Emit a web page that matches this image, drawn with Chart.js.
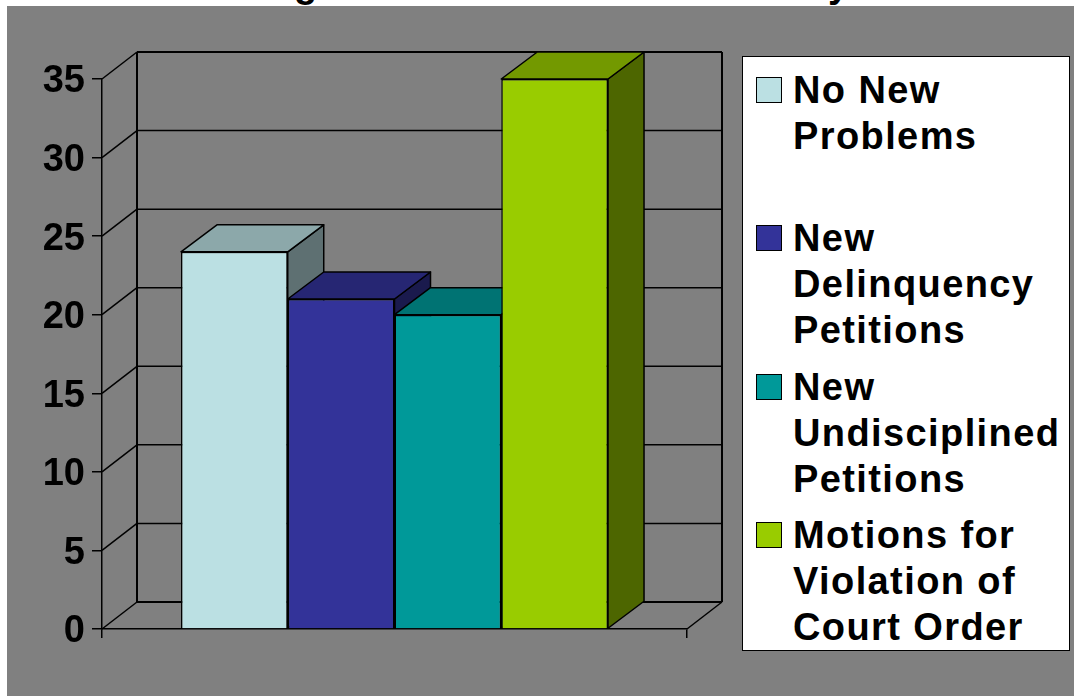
<!DOCTYPE html>
<html>
<head>
<meta charset="utf-8">
<title>Chart</title>
<script src="https://cdn.jsdelivr.net/npm/chart.js@4"></script>
<style>
  html, body { margin: 0; height: 100%; overflow: hidden; background: #fff; }
  body { font-family: "Liberation Sans", Arial, sans-serif; font-weight: bold; color: #000; }
  #backdrop { position: absolute; left: 7px; top: 6px; right: 0; bottom: 0; background: #808080; }
  #chart { position: absolute; left: 0; top: 0; }
  /* only the descenders of the title show above the grey area */
  #title-strip { position: absolute; left: 0; top: 0; width: 100%; height: 6px; overflow: hidden; font-size: 38px; line-height: 38px; }
  #title-strip span { position: absolute; top: -35px; }
  #legend { position: absolute; left: 742px; top: 56px; width: 326px; height: 593px; background: #fff; border: 1.5px solid #000; }
  .item { position: absolute; left: 0; width: 100%; font-size: 38px; line-height: 46px; letter-spacing: 1.4px; }
  .swatch { position: absolute; left: 13px; top: 10px; width: 24px; height: 24px; border: 1.5px solid #000; }
  .label { position: absolute; left: 50px; top: 0; white-space: nowrap; }
</style>
</head>
<body>
<div id="backdrop"></div>
<div id="title-strip"><span style="left:294px">g</span><span style="left:828px">y</span></div>
<canvas id="chart" width="1074" height="696"></canvas>
<div id="legend"></div>
<script>
'use strict';

const categories = [''];
const seriesNames = [
  ['No New', 'Problems'],
  ['New', 'Delinquency', 'Petitions'],
  ['New', 'Undisciplined', 'Petitions'],
  ['Motions for', 'Violation of', 'Court Order']
];
const seriesValues = [24, 21, 20, 35];
const seriesColors = ['#BBE0E3', '#333399', '#009999', '#99CC00'];
const topColors = ['#8CA8AA', '#262673', '#007373', '#739900'];
const sideColors = ['#5E7072', '#1A1A4D', '#004D4D', '#4D6600'];
const yTicks = [0, 5, 10, 15, 20, 25, 30, 35];

const wallDx = 35, wallDy = -27, barDx = 36;

function line(ctx, x1, y1, x2, y2, width) {
  ctx.lineWidth = width;
  ctx.beginPath();
  ctx.moveTo(x1, y1);
  ctx.lineTo(x2, y2);
  ctx.stroke();
}

function face(ctx, pts, color) {
  ctx.fillStyle = color;
  ctx.beginPath();
  pts.forEach((p, i) => i ? ctx.lineTo(p[0], p[1]) : ctx.moveTo(p[0], p[1]));
  ctx.closePath();
  ctx.fill();
  ctx.stroke();
}

// walls, floor and the top/side faces of the bars, all from the chart's scales
const depthPlugin = {
  id: 'depth',
  beforeDatasetsDraw(chart) {
    const ctx = chart.ctx;
    const xs = chart.scales.x, ys = chart.scales.y;
    const l = xs.left, r = xs.right;
    ctx.save();
    ctx.strokeStyle = '#000';
    ctx.lineJoin = 'round';
    yTicks.forEach(v => {
      const y = ys.getPixelForValue(v);
      const w = (v === 0 || v === yTicks[yTicks.length - 1]) ? 2 : 1.5;
      line(ctx, l, y, l + wallDx, y + wallDy, 1.5);
      line(ctx, l + wallDx, y + wallDy, r + wallDx, y + wallDy, w);
    });
    const top = ys.getPixelForValue(yTicks[yTicks.length - 1]) + wallDy;
    const floor = ys.getPixelForValue(0);
    line(ctx, l + wallDx, top, l + wallDx, floor + wallDy, 2);
    line(ctx, r + wallDx, top, r + wallDx, floor + wallDy, 2);
    line(ctx, r, floor, r + wallDx, floor + wallDy, 1.5);

    ctx.lineWidth = 1.5;
    seriesValues.forEach((v, i) => {
      const bar = chart.getDatasetMeta(i).data[0];
      const x1 = bar.x - bar.width / 2, x2 = bar.x + bar.width / 2;
      face(ctx, [[x2, bar.y], [x2 + barDx, bar.y + wallDy], [x2 + barDx, bar.base + wallDy], [x2, bar.base]], sideColors[i]);
      face(ctx, [[x1, bar.y], [x1 + barDx, bar.y + wallDy], [x2 + barDx, bar.y + wallDy], [x2, bar.y]], topColors[i]);
    });
    ctx.restore();
  }
};

const tickFont = { family: '"Liberation Sans", Arial, sans-serif', size: 38, weight: 'bold' };

new Chart(document.getElementById('chart'), {
  type: 'bar',
  data: {
    labels: categories,
    datasets: seriesValues.map((v, i) => ({
      label: seriesNames[i].join(' '),
      data: [v],
      backgroundColor: seriesColors[i],
      borderColor: '#000',
      borderWidth: 1.5
    }))
  },
  options: {
    responsive: false,
    animation: false,
    categoryPercentage: 0.73,
    barPercentage: 1,
    layout: { autoPadding: false, padding: { left: 0, top: 79, right: 387, bottom: 67 } },
    plugins: { legend: { display: false }, title: { display: false }, tooltip: { enabled: false } },
    scales: {
      x: {
        afterFit(s) { s.height = 0; },
        ticks: { display: false },
        grid: { offset: true, drawOnChartArea: false, color: '#000', lineWidth: 1.5, tickLength: 9 },
        border: { color: '#000', width: 1.5 }
      },
      y: {
        min: 0,
        max: 35,
        afterFit(s) { s.width = 102; },
        afterBuildTicks(s) { s.ticks = yTicks.map(v => ({ value: v })); },
        ticks: { color: '#000', font: tickFont, padding: 7, labelOffset: 3 },
        grid: { drawOnChartArea: false, color: '#000', lineWidth: 1.5, tickLength: 10 },
        border: { color: '#000', width: 1.5 }
      }
    }
  },
  plugins: [depthPlugin]
});

const legend = document.getElementById('legend');
seriesNames.forEach((lines, i) => {
  const item = document.createElement('div');
  item.className = 'item';
  item.style.top = (10 + i * 148.3) + 'px';
  const swatch = document.createElement('div');
  swatch.className = 'swatch';
  swatch.style.background = seriesColors[i];
  const label = document.createElement('div');
  label.className = 'label';
  lines.forEach(t => {
    const row = document.createElement('div');
    row.textContent = t;
    label.appendChild(row);
  });
  item.appendChild(swatch);
  item.appendChild(label);
  legend.appendChild(item);
});
</script>
</body>
</html>
